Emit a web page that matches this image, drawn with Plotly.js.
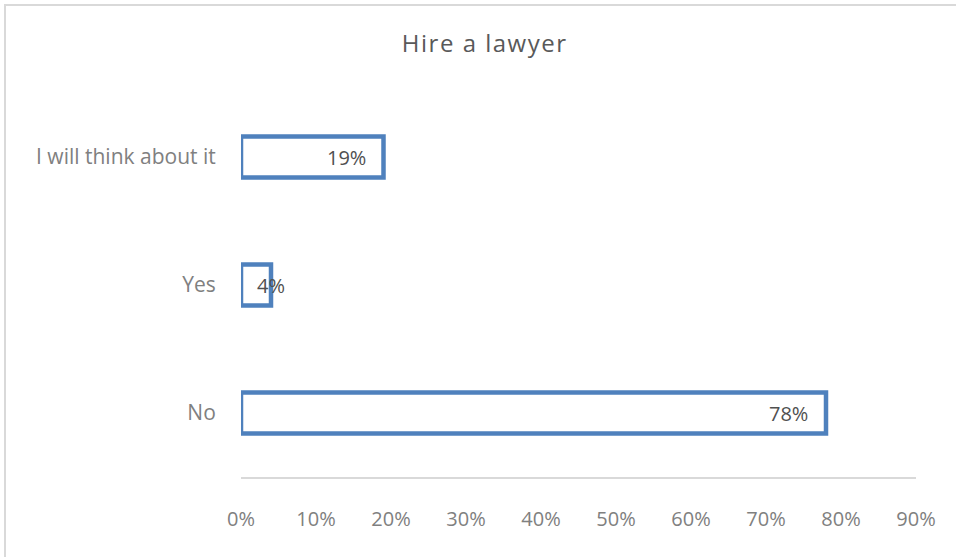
<!DOCTYPE html>
<html>
<head>
<meta charset="utf-8">
<script src="https://cdn.plot.ly/plotly-3.0.1.min.js"></script>
<style>html,body{margin:0;padding:0;background:#fff;}#chart{width:956px;height:557px;}
#chart .gtitle{letter-spacing:1.5px;}</style>
</head>
<body>
<div id="chart"></div>
<script>
var categories = ["No", "Yes", "I will think about it"];
var values = [78, 4, 19];
var valueLabels = ["78%", "4%", "19%"];
var tickVals = [0, 10, 20, 30, 40, 50, 60, 70, 80, 90];
var tickText = ["0%", "10%", "20%", "30%", "40%", "50%", "60%", "70%", "80%", "90%"];
var chartTitle = "Hire a lawyer";

var FONT = "Open Sans, Noto Sans, sans-serif";

var trace = {
  type: "bar",
  orientation: "h",
  y: categories,
  x: values,
  marker: { color: "#ffffff", line: { color: "#4f81bd", width: 4.5 } },
  hoverinfo: "none"
};

var annotations = values.map(function (v, i) {
  var small = v < 8;
  return {
    x: small ? 0 : v, y: categories[i], xref: "x", yref: "y",
    text: valueLabels[i], showarrow: false,
    xanchor: small ? "left" : "right", xshift: small ? 14 : -16,
    font: { family: FONT, size: 20, color: "#505050" }
  };
});

var layout = {
  width: 956, height: 557,
  margin: { l: 241, r: 40, t: 93, b: 80 },
  paper_bgcolor: "#ffffff", plot_bgcolor: "#ffffff",
  showlegend: false,
  bargap: 0.68,
  title: { text: chartTitle, x: 0.507, xanchor: "center", y: 0.921, yanchor: "middle",
           font: { family: FONT, size: 24, color: "#595959" } },
  xaxis: {
    range: [0, 90], tickvals: tickVals, ticktext: tickText,
    showgrid: false, zeroline: false, showline: true, linecolor: "#d9d9d9", linewidth: 2,
    ticks: "outside", ticklen: 23, tickcolor: "rgba(0,0,0,0)",
    tickfont: { family: FONT, size: 20, color: "#808080" }, fixedrange: true
  },
  yaxis: {
    showgrid: false, zeroline: false, showline: false,
    ticks: "outside", ticklen: 20, tickcolor: "rgba(0,0,0,0)",
    tickfont: { family: FONT, size: 21, color: "#808080" }, fixedrange: true
  },
  annotations: annotations,
  shapes: [{
    type: "rect", xref: "paper", yref: "paper",
    x0: (5 - 241) / 675, x1: 2, y0: -2, y1: (477 - 5) / 384,
    line: { color: "#d9d9d9", width: 2 }, fillcolor: "rgba(0,0,0,0)", layer: "below"
  }]
};

Plotly.newPlot("chart", [trace], layout, { displayModeBar: false, staticPlot: true });
</script>
</body>
</html>
